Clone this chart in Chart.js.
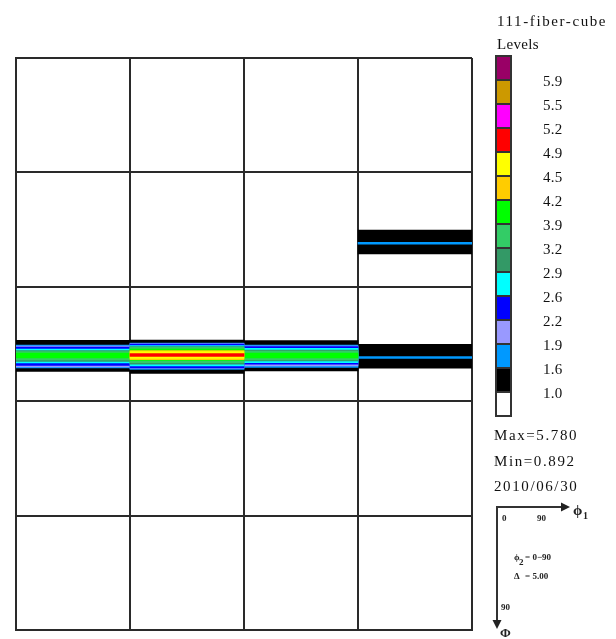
<!DOCTYPE html>
<html>
<head>
<meta charset="utf-8">
<script src="https://cdn.jsdelivr.net/npm/chart.js@4.4.1/dist/chart.umd.min.js"></script>
<style>
  html, body { margin: 0; padding: 0; background: #fff; }
  #wrap { position: relative; width: 616px; height: 639px; overflow: hidden;
          font-family: "Liberation Serif", "Times New Roman", serif; color: #111; }
  #odf { position: absolute; left: 0; top: 0; }
  .t { position: absolute; white-space: nowrap; font-size: 15px; line-height: 16px; letter-spacing: 0.3px; }
  .w { letter-spacing: 1.6px; }
  .box { position: absolute; left: 495px; width: 17px; height: 26px; box-sizing: border-box;
         border: 2px solid #333; }
  #key { position: absolute; left: 0; top: 0; }
</style>
</head>
<body>
<div id="wrap">
  <canvas id="odf" width="616" height="639"></canvas>
  <div class="t w" style="left:497px;top:13px;">111-fiber-cube</div>
  <div class="t" style="left:497px;top:36px;">Levels</div>
  <div id="legend"></div>
  <div class="t w" style="left:494px;top:427px;">Max=5.780</div>
  <div class="t w" style="left:494px;top:453px;">Min=0.892</div>
  <div class="t w" style="left:494px;top:478px;">2010/06/30</div>
  <svg id="key" width="616" height="639" font-family="Liberation Serif, serif" font-weight="bold" fill="#222">
    <line x1="497" y1="507" x2="563" y2="507" stroke="#333" stroke-width="2"/>
    <polygon points="570,507 561,502.5 561,511.5" fill="#222"/>
    <line x1="497" y1="506" x2="497" y2="622" stroke="#333" stroke-width="2"/>
    <polygon points="497,629 492.5,620 501.5,620" fill="#222"/>
    <text x="573" y="515" font-size="15">ϕ</text>
    <text x="583" y="519" font-size="10">1</text>
    <text x="502" y="521" font-size="9">0</text>
    <text x="537" y="521" font-size="9">90</text>
    <text x="514" y="560" font-size="9">ϕ</text>
    <text x="519" y="565" font-size="9">2</text>
    <text x="525" y="560" font-size="9">= 0−90</text>
    <text x="514" y="579" font-size="9">Δ</text>
    <text x="525" y="579" font-size="9">= 5.00</text>
    <text x="501" y="610" font-size="9">90</text>
    <text x="500" y="637" font-size="13">Φ</text>
  </svg>
</div>
<script>
// Contour levels of the orientation density and their fill colours (band >= level).
const levelValues = [1.0, 1.6, 1.9, 2.2, 2.6, 2.9, 3.2, 3.9, 4.2, 4.5, 4.9, 5.2, 5.5, 5.9];
const levelColors = ['#000000', '#0099ff', '#9999ff', '#0000ff', '#00ffff', '#339966',
                     '#33cc66', '#00ff00', '#ffcc00', '#ffff00', '#ff0000', '#ff00ff',
                     '#cc9900', '#990066'];

// Section columns (phi1 0-90 each) and section rows (Phi 0-90 each).
const sectionColumns = ['c1', 'c2', 'c3', 'c4'];
const sectionRows = 5;
const sectionSpan = 90;

// Phi extent [from, to] of each contour level, lowest level first, per section.
const bandR2C0 = [[42.2, 66.6], [45.8, 63.9], [46.6, 63.1], [47.4, 61.9], [48.9, 59.9],
                  [50.1, 58.8], [50.9, 57.6], [52.1, 56.0]];
const bandR2C1 = [[41.9, 68.2], [44.2, 65.0], [44.6, 64.2], [45.0, 63.8], [46.2, 62.2],
                  [47.0, 60.8], [47.7, 59.6], [48.9, 58.0], [50.1, 57.3], [51.0, 56.4],
                  [52.6, 54.8]];
const bandR2C2 = [[42.4, 66.2], [45.8, 63.5], [46.6, 62.3], [47.0, 60.8], [48.5, 59.6],
                  [49.7, 58.4], [50.5, 57.6], [52.1, 56.0]];
const bandR2C3 = [[45.2, 64.1], [54.8, 56.3]];
const bandR1C3 = [[45.3, 64.2], [55.1, 56.5]];

const bandRows = [2, 2, 2, 2, 1];
const bandCols = [0, 1, 2, 3, 3];
const bandLevels = [bandR2C0, bandR2C1, bandR2C2, bandR2C3, bandR1C3];

// Colour-bar legend (highest level on top, white below the lowest level).
const legend = document.getElementById('legend');
const barColors = levelColors.slice().reverse().concat(['#ffffff']);
barColors.forEach((c, i) => {
  const b = document.createElement('div');
  b.className = 'box';
  b.style.top = (55 + 24 * i) + 'px';
  b.style.background = c;
  legend.appendChild(b);
});
levelValues.slice().reverse().forEach((v, i) => {
  const t = document.createElement('div');
  t.className = 't';
  t.style.left = '543px';
  t.style.top = (73 + 24 * i) + 'px';
  t.textContent = v.toFixed(1);
  legend.appendChild(t);
});

// One floating-bar dataset per band and level; higher levels sit on top.
const datasets = [];
bandLevels.forEach((band, b) => {
  const base = bandRows[b] * sectionSpan;
  band.forEach((ext, k) => {
    datasets.push({
      data: sectionColumns.map((_, c) => c === bandCols[b] ? [base + ext[0], base + ext[1]] : null),
      backgroundColor: levelColors[k],
      borderWidth: 0,
      grouped: false,
      barPercentage: 1,
      categoryPercentage: 1,
      order: 100 - k
    });
  });
});

new Chart(document.getElementById('odf'), {
  type: 'bar',
  data: { labels: sectionColumns, datasets },
  options: {
    responsive: false,
    animation: false,
    layout: { padding: { left: 16, top: 58, right: 144, bottom: 9 } },
    plugins: { legend: { display: false }, tooltip: { enabled: false } },
    scales: {
      x: {
        type: 'category',
        offset: true,
        z: 1,
        ticks: { display: false },
        grid: { offset: true, color: '#2a2a2a', lineWidth: 2, drawTicks: false },
        border: { display: true, color: '#2a2a2a', width: 2 }
      },
      y: {
        type: 'linear',
        min: 0,
        max: sectionRows * sectionSpan,
        reverse: true,
        z: 1,
        ticks: { display: false, stepSize: sectionSpan },
        grid: { color: '#2a2a2a', lineWidth: 2, drawTicks: false },
        border: { display: true, color: '#2a2a2a', width: 2 }
      }
    }
  }
});
</script>
</body>
</html>
